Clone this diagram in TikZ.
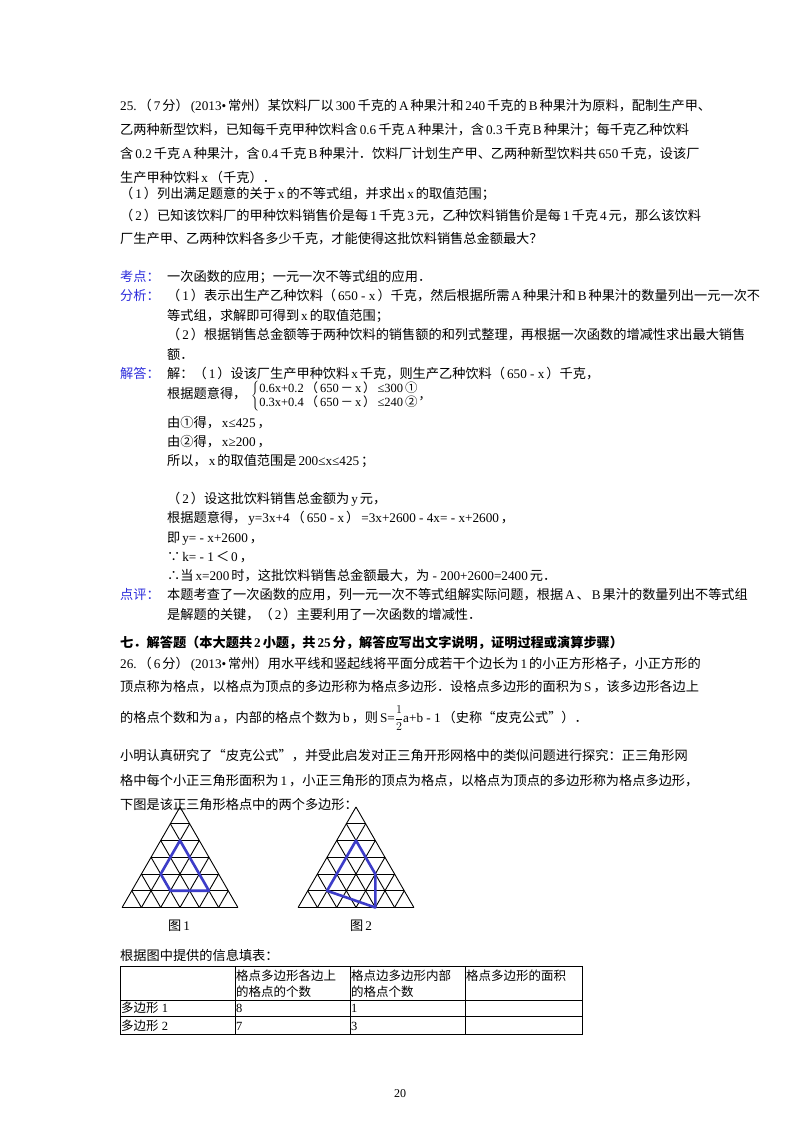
\documentclass[tikz,border=0pt]{standalone}
\usepackage{fontspec}
\setmainfont{Liberation Serif}
\newfontfamily\cjk{Noto Sans CJK SC}
\XeTeXinterchartokenstate=1
\newXeTeXintercharclass\cjkcls
\makeatletter
\def\setcls#1#2{\count@=#1 \loop\ifnum\count@<#2 \XeTeXcharclass\count@=\cjkcls \advance\count@ 1 \repeat}
\setcls{"3000}{"3040}\setcls{"4E00}{"A000}\setcls{"FF00}{"FFF0}\setcls{"2460}{"2474}\setcls{"201C}{"201E}\setcls{"2234}{"2236}
\makeatother
\XeTeXinterchartoks 0 \cjkcls={\hskip0.15em\cjk}
\XeTeXinterchartoks 4095 \cjkcls={\cjk}
\XeTeXinterchartoks \cjkcls 0={\rmfamily\hskip0.15em}
\XeTeXinterchartoks \cjkcls 4095={\rmfamily}
\definecolor{lab}{RGB}{45,45,220}
\definecolor{poly}{RGB}{60,60,200}
\begin{document}
\begin{tikzpicture}[x=1pt,y=-1pt,
  t/.style={anchor=base west,inner sep=0pt,font=\fontsize{13.2}{16}\selectfont},
  l/.style={t,text=lab},
  tb/.style={anchor=base west,inner sep=0pt,font=\fontsize{12.5}{15}\selectfont},
  grid/.style={line width=0.9pt},
  pl/.style={poly,line width=2.6pt,line join=round}]
\useasboundingbox (0,0) rectangle (800,1132);
\fill[white] (0,0) rectangle (800,1132);
% Question 25
\node[t] (q1) at (120,110) {25.（7分）(2013•常州）某饮料厂以300千克的A种果汁和240千克的B种果汁为原料，配制生产甲、};
\node[t] (q2) at (120,134) {乙两种新型饮料，已知每千克甲种饮料含0.6千克A种果汁，含0.3千克B种果汁；每千克乙种饮料};
\node[t] (q3) at (120,158) {含0.2千克A种果汁，含0.4千克B种果汁．饮料厂计划生产甲、乙两种新型饮料共650千克，设该厂};
\node[t] (q4) at (120,182) {生产甲种饮料x（千克）．};
\node[t] (q5) at (120,198) {（1）列出满足题意的关于x的不等式组，并求出x的取值范围；};
\node[t] (q6) at (120,220) {（2）已知该饮料厂的甲种饮料销售价是每1千克3元，乙种饮料销售价是每1千克4元，那么该饮料};
\node[t] (q7) at (120,243) {厂生产甲、乙两种饮料各多少千克，才能使得这批饮料销售总金额最大？};
% analysis
\node[l] (k1) at (120,281) {考点：};
\node[t] (k2) at (167,281) {一次函数的应用；一元一次不等式组的应用．};
\node[l] (f1) at (120,300) {分析：};
\node[t] (f2) at (167,300) {（1）表示出生产乙种饮料（650 - x）千克，然后根据所需A种果汁和B种果汁的数量列出一元一次不};
\node[t] (f3) at (167,320) {等式组，求解即可得到x的取值范围；};
\node[t] (f4) at (167,339) {（2）根据销售总金额等于两种饮料的销售额的和列式整理，再根据一次函数的增减性求出最大销售};
\node[t] (f5) at (167,359) {额．};
\node[l] (j1) at (120,378) {解答：};
\node[t] (j2) at (167,378) {解：（1）设该厂生产甲种饮料x千克，则生产乙种饮料（650 - x）千克，};
\node[t] (j3) at (167,398) {根据题意得，};
\node[anchor=west,inner sep=0pt,font=\fontsize{12.5}{14}\selectfont] (sys) at (251,396)
 {\renewcommand\arraystretch{0.92}$\left\{\begin{array}{@{}l@{}}\mbox{0.6x+0.2（650－x）≤300①}\\\mbox{0.3x+0.4（650－x）≤240②}\end{array}\right.$，};
\node[t] (j4) at (167,427) {由①得，x≤425，};
\node[t] (j5) at (167,446) {由②得，x≥200，};
\node[t] (j6) at (167,465) {所以，x的取值范围是200≤x≤425；};
\node[t] (j7) at (167,503) {（2）设这批饮料销售总金额为y元，};
\node[t] (j8) at (167,522) {根据题意得，y=3x+4（650 - x）=3x+2600 - 4x= - x+2600，};
\node[t] (j9) at (167,542) {即y= - x+2600，};
\node[t] (j10) at (167,561) {∵k= - 1＜0，};
\node[t] (j11) at (167,580) {∴当x=200时，这批饮料销售总金额最大，为 - 200+2600=2400元．};
\node[l] (d1) at (120,599) {点评：};
\node[t] (d2) at (167,599) {本题考查了一次函数的应用，列一元一次不等式组解实际问题，根据A、B果汁的数量列出不等式组};
\node[t] (d3) at (167,619) {是解题的关键，（2）主要利用了一次函数的增减性．};
% section 7
\node[t,font=\fontsize{13.2}{16}\selectfont\bfseries] (s7) at (120,647) {七．解答题（本大题共2小题，共25分，解答应写出文字说明，证明过程或演算步骤）};
\node[t] (p1) at (120,668) {26.（6分）(2013•常州）用水平线和竖起线将平面分成若干个边长为1的小正方形格子，小正方形的};
\node[t] (p2) at (120,691) {顶点称为格点，以格点为顶点的多边形称为格点多边形．设格点多边形的面积为S，该多边形各边上};
\node[t] (p3) at (120,722) {的格点个数和为a，内部的格点个数为b，则S=$\displaystyle{1\over2}$a+b - 1（史称“皮克公式”）．};
\node[t] (p4) at (120,760) {小明认真研究了“皮克公式”，并受此启发对正三角开形网格中的类似问题进行探究：正三角形网};
\node[t] (p5) at (120,785) {格中每个小正三角形面积为1，小正三角形的顶点为格点，以格点为顶点的多边形称为格点多边形，};
\node[t] (p6) at (120,809) {下图是该正三角形格点中的两个多边形：};
% triangle grids
\def\trig#1#2{%
 \foreach \ii in {1,...,6}{\draw[grid] ({#1-\ii*9.65},{#2+\ii*16.75}) -- ({#1+\ii*9.65},{#2+\ii*16.75});}
 \foreach \jj in {0,...,5}{\draw[grid] ({#1+\jj*9.65},{#2+\jj*16.75}) -- ({#1-57.9+\jj*19.3},{#2+100.5});}
 \foreach \kk in {0,...,5}{\draw[grid] ({#1-\kk*9.65},{#2+\kk*16.75}) -- ({#1+57.9-\kk*19.3},{#2+100.5});}
}
\trig{180}{807}
\trig{356}{807}
\def\P#1#2#3#4{({#1-#3*9.65+#4*19.3},{#2+#3*16.75})}
\draw[pl] \P{180}{807}{2}{1} -- \P{180}{807}{4}{1} -- \P{180}{807}{5}{2} -- \P{180}{807}{5}{4} -- cycle;
\draw[pl] \P{356}{807}{2}{1} -- \P{356}{807}{5}{1} -- \P{356}{807}{6}{4} -- \P{356}{807}{4}{3} -- cycle;
\node[t] (g1) at (168,930) {图1};
\node[t] (g2) at (350,930) {图2};
% table
\node[t] (tt) at (120,960) {根据图中提供的信息填表：};
\draw[line width=1pt] (120,966) rectangle (582,1034);
\draw[line width=0.8pt] (120,1000) -- (582,1000) (120,1016) -- (582,1016)
  (235,966) -- (235,1034) (350,966) -- (350,1034) (465,966) -- (465,1034);
\node[tb] (h1) at (236,980) {格点多边形各边上};
\node[tb] (h1b) at (236,996) {的格点的个数};
\node[tb] (h2) at (351,980) {格点边多边形内部};
\node[tb] (h2b) at (351,996) {的格点个数};
\node[tb] (h3) at (466,980) {格点多边形的面积};
\node[tb] (r1) at (121,1012) {多边形 1};
\node[tb] (r1a) at (236,1012) {8};
\node[tb] (r1b) at (351,1012) {1};
\node[tb] (r2) at (121,1030) {多边形 2};
\node[tb] (r2a) at (236,1030) {7};
\node[tb] (r2b) at (351,1030) {3};
\node[anchor=base,inner sep=0pt,font=\fontsize{12}{14}\selectfont] (pg) at (400,1097) {20};
\end{tikzpicture}
\end{document}
